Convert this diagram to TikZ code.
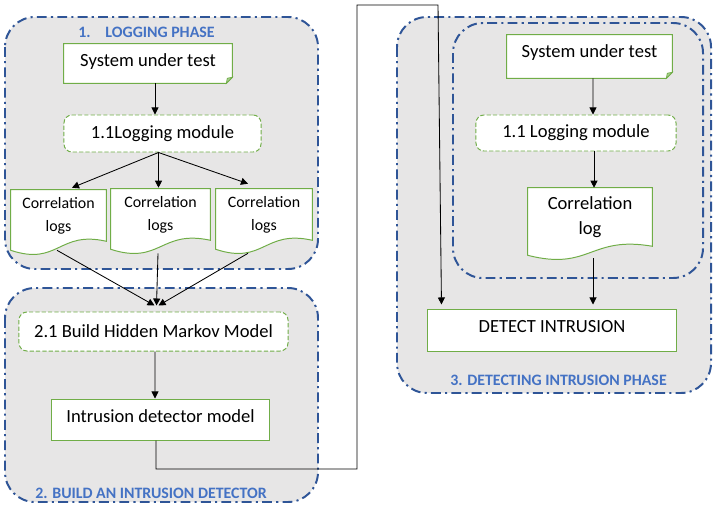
\documentclass[tikz,border=0pt]{standalone}
\usepackage{fontspec}
\setmainfont{Carlito}
\usetikzlibrary{arrows.meta,calc}
\definecolor{boxgreen}{HTML}{70AD47}
\definecolor{panelblue}{HTML}{2F5597}
\definecolor{titleblue}{HTML}{4472C4}
\definecolor{panelgray}{HTML}{E7E6E6}
\pgfdeclarelayer{background}
\pgfsetlayers{background,main}

\begin{document}
\begin{tikzpicture}[x=0.025cm,y=-0.025cm,
  panel/.style={draw=panelblue,fill=panelgray,line width=1.4pt,rounded corners=0.75cm,dash pattern=on 7pt off 3pt on 1.5pt off 3pt},
  phase/.style={text=titleblue,font=\fontsize{11.3}{13}\selectfont\bfseries},
  plainbox/.style={draw=boxgreen,fill=white,line width=0.7pt,font=\fontsize{13.2}{15}\selectfont,inner sep=0pt},
  modbox/.style={plainbox,dash pattern=on 3pt off 1.5pt,rounded corners=0.2cm},
  notebox/.style={font=\fontsize{13.2}{15}\selectfont,inner sep=0pt},
  logdoc/.style={align=center,inner sep=0pt,font=\fontsize{11.3}{16.3}\selectfont},
  arr/.style={-{Triangle[length=5pt,width=5pt]},line width=0.6pt}]

\useasboundingbox (0,0) rectangle (720,512);

\begin{pgfonlayer}{background}
\draw[panel] (5,17) rectangle (318,269);
\draw[panel] (5,288) rectangle (318,502);
\draw[panel] (397,17) rectangle (711,393);
\draw[panel] (453,23) rectangle (703,278);
\end{pgfonlayer}

\node[phase] (t1) at (146.5,32) {1.\hspace{0.37cm}LOGGING PHASE};
\node[phase] (t2) at (151,493) {2. BUILD AN INTRUSION DETECTOR};
\node[phase] (t3) at (558.5,380) {3. DETECTING INTRUSION PHASE};

\node[notebox,text depth=5pt,minimum width=4.2cm,minimum height=0.975cm] (sut1) at (148,63.5) {System under test};
\node[modbox,minimum width=4.925cm,minimum height=0.925cm] (lm1) at (162.5,133.5) {1.1Logging module};
\node[logdoc,minimum width=2.375cm,minimum height=1.3cm] (cl1) at (58.5,216) {Correlation\\logs};
\node[logdoc,minimum width=2.475cm,minimum height=1.3cm] (cl2) at (160.5,215) {Correlation\\logs};
\node[logdoc,minimum width=2.4cm,minimum height=1.3cm] (cl3) at (264,215) {Correlation\\logs};
\node[modbox,minimum width=6.725cm,minimum height=0.975cm] (hmm) at (153.5,331.5) {2.1 Build Hidden Markov Model};
\node[plainbox,text depth=5.5pt,minimum width=5.425cm,minimum height=1.025cm] (idm) at (160.5,419.5) {Intrusion detector model};

\node[notebox,text depth=8pt,minimum width=4.125cm,minimum height=1.075cm] (sut2) at (589.5,56.5) {System under test};
\node[modbox,minimum width=5cm,minimum height=0.9cm] (lm2) at (576,133) {1.1 Logging module};
\node[logdoc,font=\fontsize{13.2}{17.7}\selectfont,minimum width=3.1cm,minimum height=1.475cm] (cl4) at (590,217.5) {Correlation\\log};
\node[plainbox,text depth=5.5pt,minimum width=6.2cm,minimum height=1.05cm] (det) at (552,330) {DETECT INTRUSION};

\begin{pgfonlayer}{background}
\foreach \d in {cl1,cl2,cl3,cl4}
   \draw[boxgreen,fill=white,line width=0.7pt] ($(\d.south west)+(0,8)$) -- (\d.north west) -- (\d.north east) -- ($(\d.south east)+(0,-1)$) .. controls ($(\d.south)+(0,-12)$) and ($(\d.south)+(0,24)$) .. ($(\d.south west)+(0,8)$) -- cycle;
\foreach \s in {sut1,sut2}
   \draw[boxgreen,fill=white,line width=0.7pt] (\s.south west) -- (\s.north west) -- (\s.north east) -- ($(\s.south east)+(0,-6)$) -- ($(\s.south east)+(-6,0)$) -- cycle;
\end{pgfonlayer}
\foreach \s in {sut1,sut2}
   \draw[boxgreen,fill=boxgreen!60,line width=0.5pt] ($(\s.south east)+(0,-6)$) -- ($(\s.south east)+(-5,-5)$) -- ($(\s.south east)+(-6,0)$) -- cycle;

\draw[arr] ($(sut1.south)+(7,0)$) -- ($(lm1.north)+(-7.5,0)$);
\coordinate (lm1b) at ($(lm1.south)+(-4,0)$);
\draw[arr] (lm1b) -- ($(cl1.north)+(13.5,-2)$);
\draw[arr] (lm1b) -- ($(cl2.north)+(-2,-1)$);
\draw[arr] (lm1b) -- ($(cl3.north)+(-16,-5)$);

\coordinate (hmmt) at ($(hmm.north)+(3,-6)$);
\draw[arr] ($(cl1.south)+(-1.5,8)$) -- ($(hmmt)+(-2,0)$);
\draw[arr] ($(cl2.south)+(-2.5,12)$) -- (hmmt);
\draw[arr] ($(cl3.south)+(-16,12)$) -- ($(hmmt)+(2,0)$);
\draw[arr] ($(hmm.south)+(1.5,0)$) -- ($(idm.north)+(-5.5,0)$);

\coordinate (b1) at (357,469);
\coordinate (b2) at (438,5);
\draw[arr] ($(idm.south)+(-4.5,0)$) |- (b1) |- (b2) -- ($(det.north west)+(14,-4)$);

\draw[arr] ($(sut2.south)+(3.5,0)$) -- ($(lm2.north)+(17,0)$);
\draw[arr] ($(lm2.south)+(18,0)$) -- ($(cl4.north)+(4,0)$);
\draw[arr] ($(cl4.south)+(3,11)$) -- ($(det.north)+(41,-4)$);

\end{tikzpicture}
\end{document}
